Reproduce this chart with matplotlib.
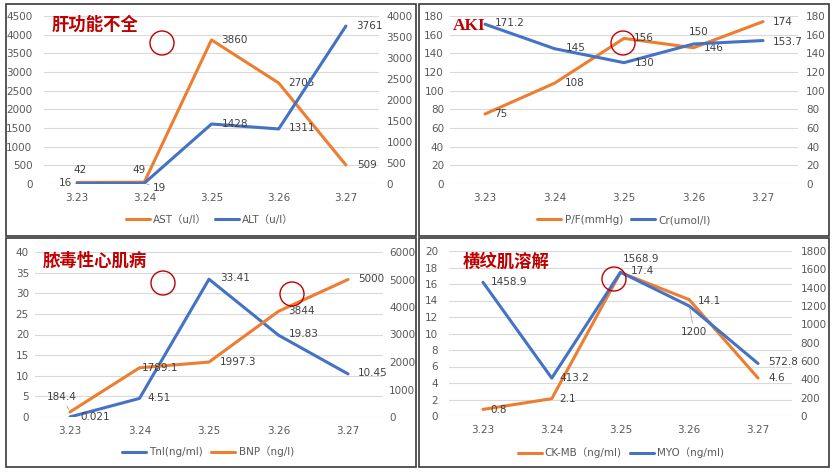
import matplotlib.pyplot as plt
from matplotlib.patches import Rectangle, Ellipse

plt.rcParams['font.family'] = ['Liberation Sans Narrow', 'DejaVu Sans', 'Noto Sans CJK SC']

# data
dates = ['3.23', '3.24', '3.25', '3.26', '3.27']
ast = [42, 49, 3860, 2705, 509]
alt = [16, 19, 1428, 1311, 3761]
pf = [75, 108, 156, 146, 174]
cr = [171.2, 145, 130, 150, 153.7]
tni = [0.021, 4.51, 33.41, 19.83, 10.45]
bnp = [184.4, 1789.1, 1997.3, 3844, 5000]
ckmb = [0.8, 2.1, 17.4, 14.1, 4.6]
myo = [1458.9, 413.2, 1568.9, 1200, 572.8]

ORANGE = '#ED7D31'
BLUE = '#4472C4'
TICK = '#595959'
LAB = '#404040'
RED = '#C00000'
W, H = 835, 472

fig = plt.figure(figsize=(W / 100, H / 100), dpi=100)


def px(x0, y0, x1, y1):
    # pixel box (top-left origin) -> figure fraction rect
    return [x0 / W, 1 - y1 / H, (x1 - x0) / W, (y1 - y0) / H]


def label_points(ax, vals, offs):
    for i, (v, o) in enumerate(zip(vals, offs)):
        dx, dy, ha = o[:3]
        lead = len(o) > 3
        ax.annotate(str(v), (i, v), xytext=(dx, dy), textcoords='offset pixels',
                    ha=ha, va='center', fontsize=7.5, color=LAB, zorder=5,
                    arrowprops=dict(arrowstyle='-', color='#A6A6A6', lw=0.6,
                                    shrinkA=1, shrinkB=2) if lead else None)


def panel(box, s1, s2, lims, pads, legend_xy):
    ax = fig.add_axes(px(*box))
    ax2 = ax.twinx()
    x = range(len(dates))
    l1, = ax.plot(x, s1['v'], color=s1['c'], lw=2.2, solid_capstyle='round', zorder=3)
    l2, = ax2.plot(x, s2['v'], color=s2['c'], lw=2.2, solid_capstyle='round', zorder=3)
    label_points(ax, s1['v'], s1['o'])
    label_points(ax2, s2['v'], s2['o'])
    (a, sa), (b, sb) = lims
    ax.set_yticks([k * sa for k in range(int(round(a / sa)) + 1)])
    ax.set_yticklabels([f'{t:g}' for t in ax.get_yticks()])
    ax.set_ylim(0, a)
    ax2.set_yticks([k * sb for k in range(int(round(b / sb)) + 1)])
    ax2.set_yticklabels([f'{t:g}' for t in ax2.get_yticks()])
    ax2.set_ylim(0, b)
    ax.set_xticks(list(x))
    ax.set_xticklabels(dates)
    ax.set_xlim(-0.5, len(dates) - 0.5)
    ax.grid(axis='y', color='#D9D9D9', lw=0.8)
    ax.set_axisbelow(True)
    for a_ in (ax, ax2):
        for sp in a_.spines.values():
            sp.set_visible(False)
    ax.tick_params(axis='y', length=0, pad=pads[0], labelsize=7.5, labelcolor=TICK)
    ax2.tick_params(axis='y', length=0, pad=pads[1], labelsize=7.5, labelcolor=TICK)
    ax.tick_params(axis='x', length=0, pad=6.5, labelsize=7.5, labelcolor=TICK)
    fig.legend([l1, l2], [s1['n'], s2['n']], loc='center',
               bbox_to_anchor=(legend_xy[0] / W, 1 - legend_xy[1] / H),
               ncol=2, frameon=False, fontsize=7.5, labelcolor=TICK,
               handlelength=2.3, handletextpad=0.3, columnspacing=0.8)
    return ax


L = 'left'
C = 'center'
R = 'right'

panel((43.5, 16, 379.5, 184),
      dict(v=ast, c=ORANGE, n='AST（u/l）',
           o=[(3, 12, C), (-5, 12, C), (10, 0, L), (10, 0, L), (11, 0, L)]),
      dict(v=alt, c=BLUE, n='ALT（u/l）',
           o=[(-5, 0, R), (9, -5, L, 1), (10, 0, L), (10, 1, L), (10, 0, L)]),
      ((4500, 500), (4000, 500)), (8, 5), (210, 220))

panel((450.25, 16, 797.75, 184),
      dict(v=pf, c=ORANGE, n='P/F(mmHg)',
           o=[(9, 0, L), (10, 0, L), (10, 0, L), (10, 0, L), (10, 0, L)]),
      dict(v=cr, c=BLUE, n='Cr(umol/l)',
           o=[(10, 1, L), (11, 1, L), (11, 0, L), (5, 12, C), (10, -1, L)]),
      ((180, 20), (180, 20)), (4.5, 6), (624, 220))

panel((35.25, 252, 382.75, 417),
      dict(v=tni, c=BLUE, n='Tnl(ng/ml)',
           o=[(10, 0, L), (8, 0, L), (11, 1, L), (10, 1, L), (10, 1, L)]),
      dict(v=bnp, c=ORANGE, n='BNP（ng/l)',
           o=[(-8, 15, C, 1), (2, 0, L), (11, 0, L), (10, 0, L), (10, 0, L)]),
      ((40, 5), (6000, 1000)), (4.5, 4.5), (208, 452))

panel((448.6, 251, 792.4, 416),
      dict(v=ckmb, c=ORANGE, n='CK-MB（ng/ml)',
           o=[(7, -1, L), (8, 0, L), (10, 1, L), (9, -1, L), (10, 0, L)]),
      dict(v=myo, c=BLUE, n='MYO（ng/ml)',
           o=[(8, 0, L), (8, 0, L), (2, 13, L), (5, -26, C, 1), (10, 1, L)]),
      ((20, 2), (1800, 200)), (7.5, 6), (621, 453))

# panel titles
title_font = dict(family=['Noto Sans CJK SC'], fontsize=12.5, fontweight='bold', color=RED, va='center')
fig.text(52 / W, 1 - 25 / H, '肝功能不全', **title_font)
fig.text(453 / W, 1 - 26 / H, 'AKI', family=['Liberation Serif'], fontsize=12.5,
         fontweight='bold', color=RED, va='center')
fig.text(43 / W, 1 - 261 / H, '脓毒性心肌病', **title_font)
fig.text(463 / W, 1 - 262 / H, '横纹肌溶解', **title_font)

# red circles
for cx, cy in [(162, 43), (623, 43), (163, 283), (292, 294), (614, 279)]:
    fig.patches.append(Ellipse((cx / W, 1 - cy / H), 24 / W, 24 / H, fill=False,
                               ec=RED, lw=1.0, transform=fig.transFigure, zorder=10))

# panel frames
for bx in [(6, 4, 416, 236), (419, 4, 829, 236), (6, 238, 416, 467), (419, 238, 829, 467)]:
    r = px(*bx)
    fig.patches.append(Rectangle((r[0], r[1]), r[2], r[3], fill=False, ec='#3A3A3A',
                                 lw=1.2, transform=fig.transFigure, zorder=10))

fig.savefig('out.png', dpi=100)
